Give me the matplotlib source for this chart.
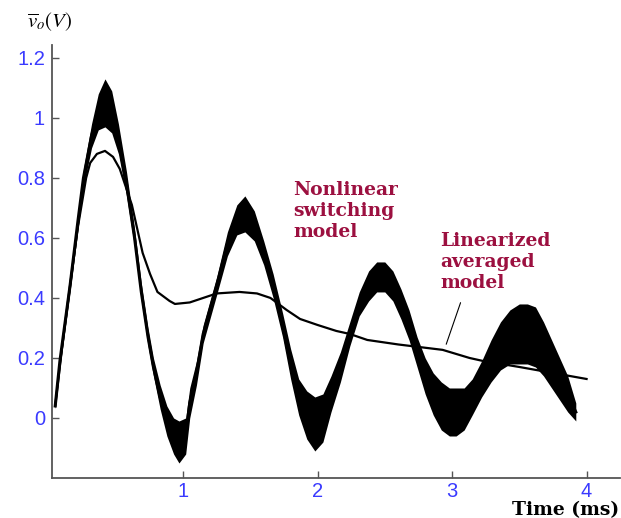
"""Switching vs linearized averaged model: output voltage transient"""
import numpy as np
import matplotlib
matplotlib.use('Agg')
from matplotlib import pyplot as plt

# Nonlinear switching model: band centre and ripple half-width
sw_t = [0.05, 0.085, 0.16, 0.22, 0.26, 0.32, 0.37, 0.42, 0.47, 0.52, 0.58,
        0.64, 0.69, 0.74, 0.78, 0.83, 0.88, 0.93, 0.97, 1.02, 1.05, 1.10,
        1.15, 1.25, 1.33, 1.40, 1.46, 1.53, 1.60, 1.67, 1.74, 1.80, 1.86,
        1.92, 1.98, 2.04, 2.10, 2.17, 2.24, 2.31, 2.38, 2.44, 2.50, 2.56,
        2.62, 2.68, 2.74, 2.80, 2.86, 2.92, 2.98, 3.03, 3.09, 3.15, 3.22,
        3.29, 3.36, 3.43, 3.50, 3.56, 3.62, 3.68, 3.74, 3.80, 3.86, 3.92]
sw_v = [0.04, 0.19, 0.44, 0.66, 0.80, 0.94, 1.02, 1.05, 1.02, 0.93, 0.78,
        0.60, 0.42, 0.27, 0.17, 0.07, -0.01, -0.06, -0.08, -0.06, 0.05, 0.15,
        0.28, 0.44, 0.58, 0.66, 0.68, 0.64, 0.55, 0.44, 0.31, 0.18, 0.07,
        0.01, -0.02, 0.00, 0.08, 0.17, 0.28, 0.38, 0.44, 0.47, 0.47, 0.44,
        0.38, 0.31, 0.22, 0.14, 0.08, 0.04, 0.02, 0.02, 0.03, 0.07, 0.13,
        0.19, 0.24, 0.27, 0.28, 0.28, 0.27, 0.23, 0.18, 0.13, 0.08, 0.02]
sw_h = [0.01, 0.02, 0.02, 0.03, 0.03, 0.04, 0.06, 0.08, 0.07, 0.05, 0.04,
        0.03, 0.03, 0.03, 0.03, 0.04, 0.05, 0.06, 0.07, 0.06, 0.05, 0.04,
        0.03, 0.03, 0.04, 0.05, 0.06, 0.05, 0.04, 0.04, 0.04, 0.05, 0.06,
        0.08, 0.09, 0.08, 0.06, 0.05, 0.04, 0.04, 0.05, 0.05, 0.05, 0.05,
        0.05, 0.05, 0.05, 0.06, 0.07, 0.08, 0.08, 0.08, 0.07, 0.06, 0.06,
        0.07, 0.08, 0.09, 0.10, 0.10, 0.10, 0.09, 0.08, 0.07, 0.06, 0.03]

# Linearized averaged model
avg_t = [0.05, 0.10, 0.16, 0.22, 0.28, 0.31, 0.36, 0.42, 0.48, 0.53, 0.62,
         0.70, 0.755, 0.81, 0.90, 0.94, 1.05, 1.25, 1.42, 1.55, 1.65, 1.77,
         1.87, 2.00, 2.14, 2.24, 2.37, 2.60, 2.93, 3.13, 3.23, 3.50, 3.75,
         4.00]
avg_v = [0.04, 0.23, 0.44, 0.64, 0.80, 0.85, 0.88, 0.89, 0.87, 0.83, 0.71,
         0.55, 0.48, 0.42, 0.39, 0.38, 0.385, 0.415, 0.42, 0.415, 0.40, 0.36,
         0.33, 0.31, 0.29, 0.28, 0.26, 0.245, 0.227, 0.20, 0.19, 0.17, 0.15,
         0.13]

x_ticks = [1, 2, 3, 4]
y_ticks = [0, 0.2, 0.4, 0.6, 0.8, 1.0, 1.2]
y_ticklabels = ['0', '0.2', '0.4', '0.6', '0.8', '1', '1.2']

BLUE = '#3a3aff'
RED = '#9c1040'
SERIF = 'DejaVu Serif'
plt.rcParams['mathtext.fontset'] = 'stix'


def plot():
    fig = plt.figure(figsize=(6.21, 5.18), dpi=100)
    ax = fig.add_axes([0.0837, 0.0772, 0.915, 0.836])

    t = np.array(sw_t)
    v = np.array(sw_v)
    h = np.array(sw_h)
    ax.fill_between(t, v - h, v + h, color='black', lw=0)
    ax.plot(t, v, color='black', lw=2.2)
    ax.plot(avg_t, avg_v, color='black', lw=1.6)

    ax.text(1.82, 0.79, 'Nonlinear\nswitching\nmodel', color=RED,
            family=SERIF, weight='bold', fontsize=13.5, va='top', ha='left',
            linespacing=1.2)
    ax.text(2.91, 0.62, 'Linearized\naveraged\nmodel', color=RED,
            family=SERIF, weight='bold', fontsize=13.5, va='top', ha='left',
            linespacing=1.2)
    ax.annotate('', xy=(2.95, 0.237), xytext=(3.07, 0.393),
                arrowprops=dict(arrowstyle='-', color='black', lw=0.8))

    ax.set_xlim(0.026, 4.25)
    ax.set_ylim(-0.2, 1.243)
    ax.set_xticks(x_ticks)
    ax.set_xticklabels([str(x) for x in x_ticks])
    ax.set_yticks(y_ticks)
    ax.set_yticklabels(y_ticklabels)
    for side in ('top', 'right'):
        ax.spines[side].set_visible(False)
    for side in ('left', 'bottom'):
        ax.spines[side].set_color('#555555')
        ax.spines[side].set_linewidth(1.3)
    ax.tick_params(direction='in', length=5, width=1, color='#555555',
                   labelcolor=BLUE, labelsize=14.5)
    ax.tick_params(axis='x', pad=3)
    ax.tick_params(axis='y', pad=5)
    for lab in ax.get_xticklabels() + ax.get_yticklabels():
        lab.set_family('Liberation Sans')

    fig.text(27 / 621, 1 - 22 / 518, r'$\overline{v}_o(V)$', fontsize=15,
             ha='left', va='center')
    fig.text(619 / 621, 1 - 515 / 518, 'Time (ms)', family=SERIF,
             weight='bold', fontsize=13.5, ha='right', va='baseline')

    fig.savefig('out.png', dpi=100)


if __name__ == '__main__':
    plot()
